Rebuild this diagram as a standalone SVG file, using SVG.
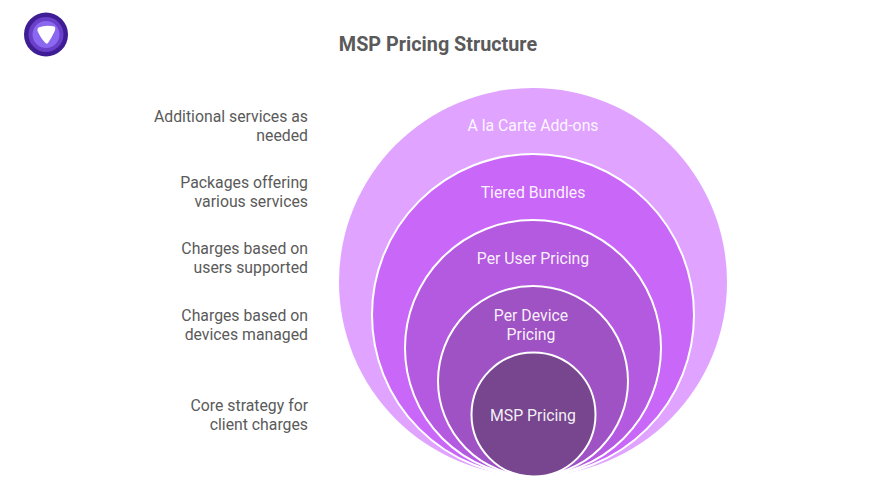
<svg xmlns="http://www.w3.org/2000/svg" width="876" height="493" viewBox="0 0 876 493">
<style>
text{font-family:Roboto,"Liberation Sans",sans-serif}
.c{stroke:#fff;stroke-width:2}
.in{font-size:15.800px;fill:#fff;text-anchor:middle;fill-opacity:.93}
.lb{font-size:15.800px;fill:#5a5a5a;text-anchor:end}
</style>
<rect width="876" height="493" fill="#fff"/>
<g id="logo">
<circle cx="46" cy="34.500" r="22" fill="#3f1d94"/>
<circle cx="46" cy="34.500" r="17.500" fill="#6a3fc9"/>
<circle cx="46" cy="34.500" r="13.500" fill="#8a68ef"/>
<path d="M38.500 27.500Q46 24.500 54.500 26.500Q56 28 54.500 31.500Q51.500 38 48 43Q46.500 44.500 45 42.500Q41 38.500 37.500 31Q37 28.500 38.500 27.500Z" fill="#fff"/>
</g>
<text id="title" x="438" y="50.500" font-size="19.800" font-weight="700" fill="#5a5a5a" text-anchor="middle">MSP Pricing Structure</text>
<g id="node-addons"><circle cx="533" cy="282" r="194" fill="#e0a3ff"/><text class="in" x="533" y="130.500">A la Carte Add-ons</text></g>
<g id="node-tiered"><circle class="c" cx="533" cy="315" r="161" fill="#c968f8"/><text class="in" x="533" y="197.500">Tiered Bundles</text></g>
<g id="node-user"><circle class="c" cx="533" cy="348" r="128" fill="#b45ae0"/><text class="in" x="533" y="263.500">Per User Pricing</text></g>
<g id="node-device"><circle class="c" cx="533" cy="381" r="95" fill="#9f52c4"/><text class="in" x="531" y="320.500">Per Device</text><text class="in" x="531" y="339.500">Pricing</text></g>
<g id="node-msp"><circle class="c" cx="533.500" cy="414.500" r="62" fill="#77468f"/><text class="in" x="533" y="420.500">MSP Pricing</text></g>
<g id="labels">
<text class="lb" x="308" y="121.500">Additional services as</text><text class="lb" x="308" y="140.500">needed</text>
<text class="lb" x="308" y="187.500">Packages offering</text><text class="lb" x="308" y="206.500">various services</text>
<text class="lb" x="308" y="254">Charges based on</text><text class="lb" x="308" y="273">users supported</text>
<text class="lb" x="308" y="320.500">Charges based on</text><text class="lb" x="308" y="339.500">devices managed</text>
<text class="lb" x="308" y="411">Core strategy for</text><text class="lb" x="308" y="430">client charges</text>
</g>
<g id="connectors"></g>
</svg>
